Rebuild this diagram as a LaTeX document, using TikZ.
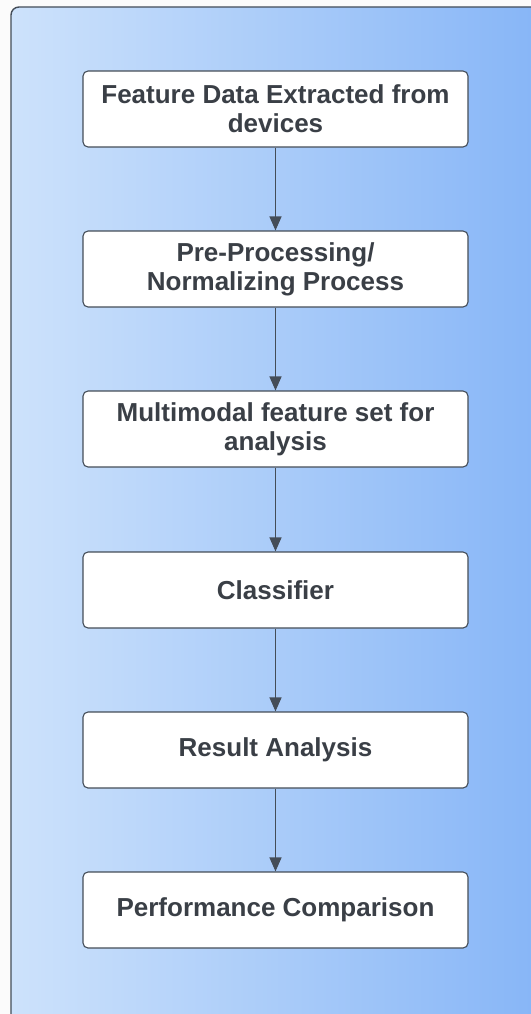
\documentclass[tikz,border=0pt]{standalone}
\usepackage{fontspec}
\setmainfont{Liberation Sans}
\usetikzlibrary{arrows.meta}
\definecolor{panelL}{HTML}{CDE2FB}
\definecolor{panelR}{HTML}{86B5F7}
\definecolor{edge}{HTML}{444D58}
\definecolor{ink}{HTML}{3A3F46}
\tikzset{
  stage/.style={draw=edge, line width=1.1pt, fill=white, rounded corners=5pt,
    minimum width=385pt, minimum height=76pt, align=center,
    font=\fontsize{26}{29}\selectfont\bfseries, text=ink, inner sep=0pt},
  flow/.style={draw=edge, line width=1.1pt, -{Triangle[width=12pt,length=14pt]}}
}
\begin{document}
\begin{tikzpicture}[x=1pt,y=-1pt]
\useasboundingbox (0,0) rectangle (530,1014);
\fill[white!97!gray] (0,0) rectangle (530,1014);
% gradient panel running off the right and bottom edges
\shade[left color=panelL, right color=panelR, draw=edge, line width=1.4pt, rounded corners=8pt]
  (11,1030) -- (11,7) -- (545,7) -- (545,1030) -- cycle;
\node[stage] (s1) at (275.5,109) {Feature Data Extracted from\\devices};
\node[stage] (s2) at (275.5,269) {Pre-Processing/\\Normalizing Process};
\node[stage] (s3) at (275.5,429) {Multimodal feature set for\\analysis};
\node[stage] (s4) at (275.5,590) {Classifier};
\node[stage] (s5) at (275.5,750) {Result Analysis};
\node[stage] (s6) at (275.5,910) {Performance Comparison};
\foreach \a/\b in {s1/s2,s2/s3,s3/s4,s4/s5,s5/s6}
  \draw[flow] (\a) -- (\b);
\end{tikzpicture}
\end{document}
